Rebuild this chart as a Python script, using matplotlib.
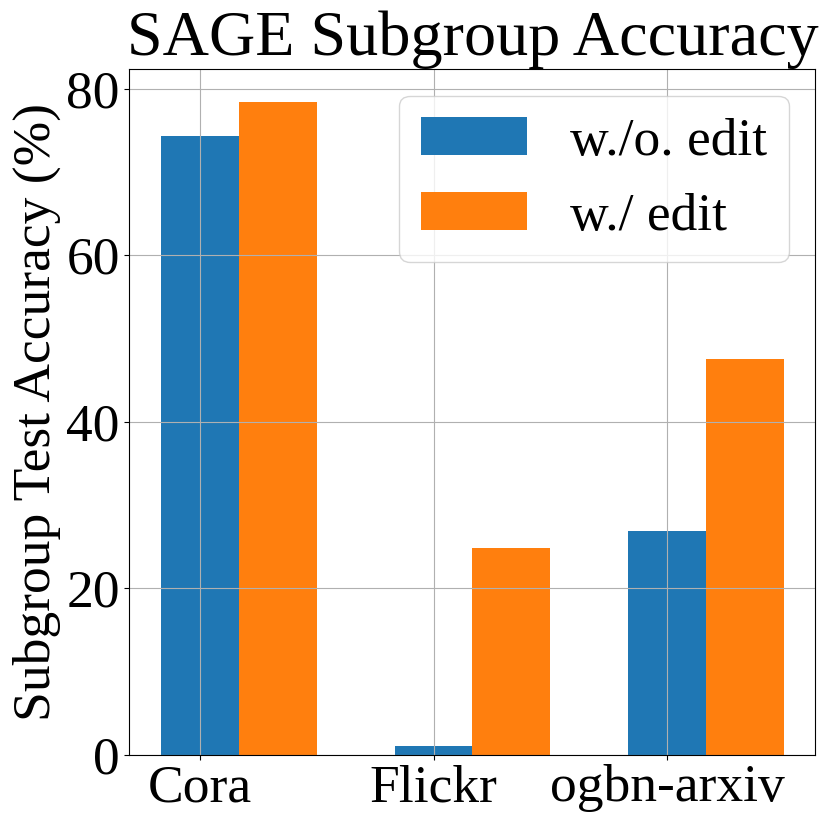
import numpy as np
import matplotlib
matplotlib.use("Agg")
import matplotlib.pyplot as plt

# values
datasets = ["Cora", "Flickr", "ogbn-arxiv"]
without_edit = [74.35, 1.0, 26.9]
with_edit = [78.45, 24.8, 47.5]
series_labels = ["w./o. edit", "w./ edit"]

plt.rcParams["font.family"] = ["Liberation Serif", "DejaVu Serif"]
plt.rcParams["font.size"] = 38.5

fig = plt.figure(figsize=(8.3, 8.25), dpi=100, facecolor="white")
ax = fig.add_axes([0.156, 0.0852, 0.8265, 0.8312])

x = np.arange(len(datasets))
width = 1 / 3

ax.bar(x, without_edit, width, label=series_labels[0], color="#1f77b4")
ax.bar(x + width, with_edit, width, label=series_labels[1], color="#ff7f0e")

ax.set_xticks(x)
ax.set_xticklabels(datasets)
ax.set_ylabel("Subgroup Test Accuracy (%)")
ax.set_title("SAGE Subgroup Accuracy")
ax.grid(True)
ax.legend(loc="upper right")

fig.savefig("out.png", dpi=100, facecolor="white")
plt.close(fig)
